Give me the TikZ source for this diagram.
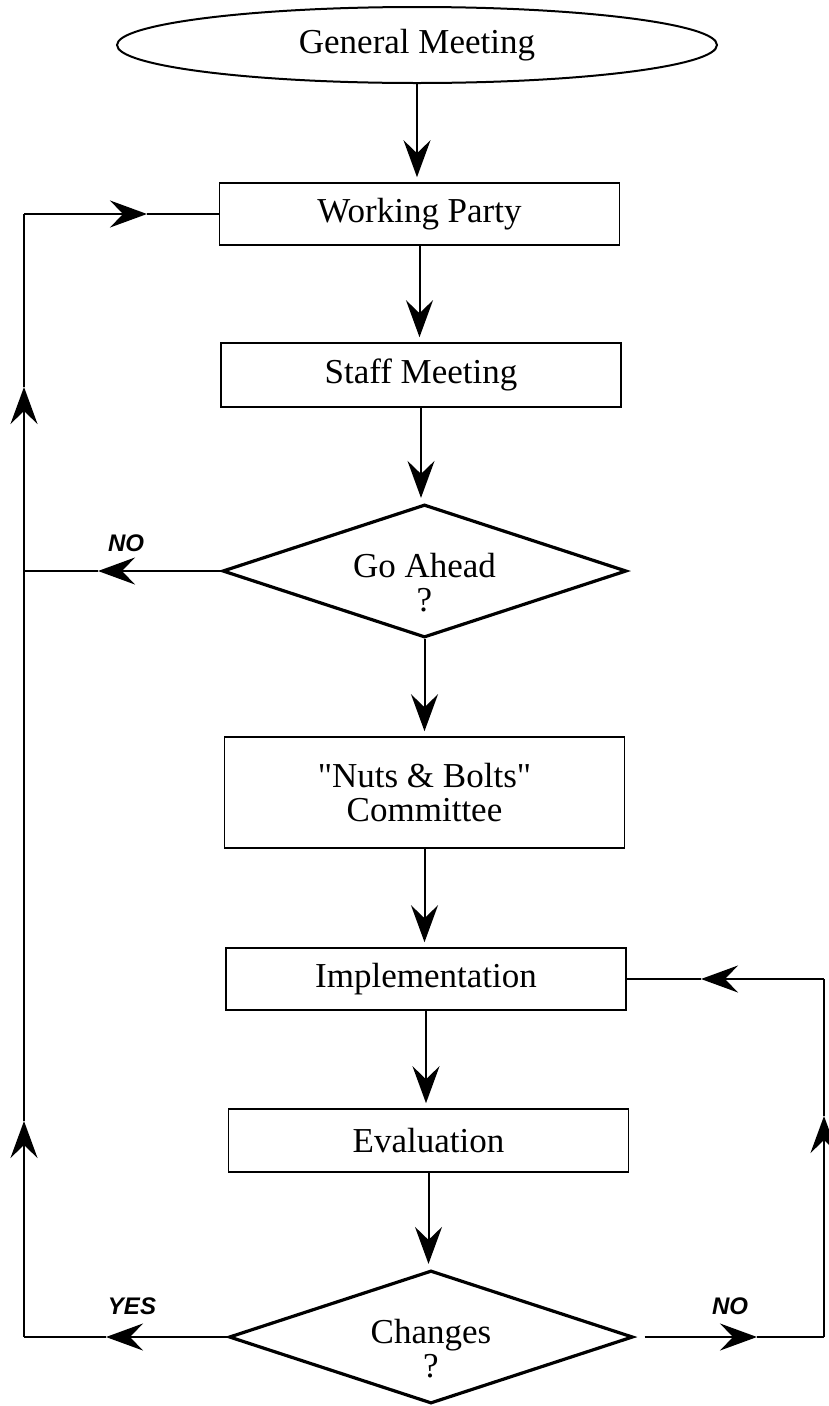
\documentclass[tikz,border=0pt]{standalone}
\usepackage{fontspec}
\setmainfont{Liberation Serif}
\setsansfont{Liberation Sans}
\usetikzlibrary{shapes.geometric,arrows.meta}
\begin{document}
\begin{tikzpicture}[x=1pt,y=-1pt,
  txt/.style={font=\fontsize{35}{34}\selectfont, align=center},
  box/.style={draw, line width=1.6pt, rectangle, minimum width=400pt, inner sep=0pt, txt},
  dec/.style={draw, line width=3.2pt, diamond, minimum width=404pt, minimum height=133pt, inner sep=0pt},
  conn/.style={line width=2pt},
  tip/.style={-{Stealth[length=37pt,width=27pt,inset=13pt]}},
  lab/.style={font=\sffamily\bfseries\itshape\fontsize{24}{26}\selectfont}
]
\useasboundingbox (0,0) rectangle (829,1406);
\fill[white] (0,0) rectangle (829,1406);

% nodes
\node[draw, ellipse, line width=2pt, minimum width=600pt, minimum height=76pt, inner sep=0pt, txt] (gm) at (417,45) {General Meeting};
\node[box, minimum height=62pt] (wp) at (419.5,214) {Working Party};
\node[box, minimum height=64pt] (sm) at (421,375) {Staff Meeting};
\node[dec, label={[txt, yshift=-12pt]center:{Go Ahead\\?}}] (ga) at (424.5,571) {};
\node[box, minimum height=111pt] (nb) at (424.5,792.5) {\textquotedbl Nuts \& Bolts\textquotedbl\\Committee};
\node[box, minimum height=62pt] (im) at (426,979) {Implementation};
\node[box, minimum height=63pt] (ev) at (428.5,1140.5) {Evaluation};
\node[dec, label={[txt, yshift=-12pt]center:{Changes\\?}}] (ch) at (431,1337) {};

% labels
\node[lab] (no1) at (126,543) {NO};
\node[lab] (yes) at (132,1306) {YES};
\node[lab] (no2) at (730,1306) {NO};

% corners and arrow-tip points
\coordinate (lt) at (24,214);
\coordinate (lm) at (24,571);
\coordinate (lb) at (24,1337);
\coordinate (rt) at (824,979);
\coordinate (rb) at (824,1337);
\coordinate (a1) at (147,214);
\coordinate (a2) at (24,387);
\coordinate (a3) at (98,571);
\coordinate (a4) at (24,1121);
\coordinate (a5) at (106,1337);
\coordinate (a6) at (757,1337);
\coordinate (a7) at (824,1116);
\coordinate (a8) at (701,979);

% main flow
\draw[conn,tip,shorten >=5pt] (gm.south) -- (gm.south |- wp.north);
\draw[conn,tip,shorten >=5pt] (wp.south) -- (wp.south |- sm.north);
\draw[conn,tip,shorten >=5pt] (sm.south) -- (sm.south |- ga.north);
\draw[conn,tip,shorten >=5pt] (ga.south) -- (ga.south |- nb.north);
\draw[conn,tip,shorten >=5pt] (nb.south) -- (nb.south |- im.north);
\draw[conn,tip,shorten >=5pt] (im.south) -- (im.south |- ev.north);
\draw[conn,tip,shorten >=5pt] (ev.south) -- (ev.south |- ch.north);

% left loop
\draw[conn,tip] (ga.west) -- (a3);
\draw[conn] (a3) -- (lm);
\draw[conn,tip] (ch.west) -- (a5);
\draw[conn] (a5) -- (lb);
\draw[conn,tip] (lb) -- (a4);
\draw[conn] (a4) -- (lm);
\draw[conn,tip] (lm) -- (a2);
\draw[conn] (a2) -- (lt);
\draw[conn,tip] (lt) -- (a1);
\draw[conn] (a1) -- (wp.west);

% right loop
\draw[conn,tip,shorten <=10pt] (ch.east) -- (a6);
\draw[conn] (a6) -- (rb);
\draw[conn,tip] (rb) -- (a7);
\draw[conn] (a7) -- (rt);
\draw[conn,tip] (rt) -- (a8);
\draw[conn] (a8) -- (im.east);
\end{tikzpicture}
\end{document}
